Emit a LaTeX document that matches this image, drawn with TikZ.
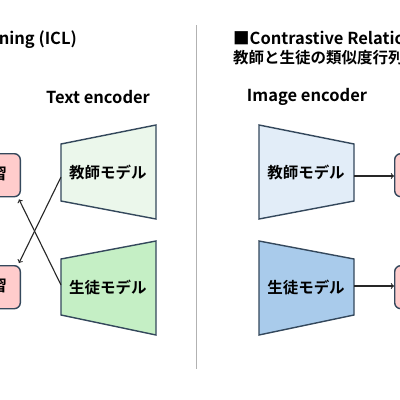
\documentclass[tikz,border=0pt]{standalone}
\usepackage{fontspec}
\setmainfont{Noto Sans CJK JP}[BoldFont={* Bold}]
\usepackage{xcolor}
\usetikzlibrary{arrows,calc,positioning}

\definecolor{edge}{HTML}{34485C}
\definecolor{pink}{HTML}{FFCCCC}
\definecolor{greenT}{HTML}{EBF7EB}
\definecolor{greenS}{HTML}{C5EFC5}
\definecolor{blueT}{HTML}{E2EDF8}
\definecolor{blueS}{HTML}{A9CBEB}

\tikzset{
  lbl/.style={font=\fontsize{15.5}{18}\selectfont\bfseries, inner sep=0pt},
  lat/.style={font=\fontsize{16.5}{19}\selectfont\bfseries, inner sep=0pt},
  outbox/.style={draw=edge, fill=pink, line width=1.4pt, rounded corners=6pt, minimum height=43pt},
  enc/.style={draw=edge, line width=1.4pt},
  link/.style={->, line width=1.1pt, draw=black!85},
}

\begin{document}
\begin{tikzpicture}[x=1pt,y=-1pt]

    \clip (0,0) rectangle (400,400);
    \fill[white] (0,0) rectangle (400,400);

    % Trennlinie
    \draw[gray!60, line width=1pt] (196,25) -- (196,369);

    % Titel
    \node[lat, anchor=base east] (titleL) at (77,44) {■In-Context Learning (ICL)};
    \node[lat, anchor=base west] (titleR) at (233,44) {■Contrastive Relation Distillation};
    \node[lbl, anchor=base west] (titleR2) at (233,63) {教師と生徒の類似度行列};

    \node[lat] (textenc) at (98,97) {Text encoder};
    \node[lat] (imgenc) at (307,97) {Image encoder};

    % Text encoder
    \draw[enc, fill=greenT] (61,144) -- (156,125) -- (156,219) -- (61,201) -- cycle;
    \draw[enc, fill=greenS] (61,259) -- (156,241) -- (156,335) -- (61,315) -- cycle;
    \node[lbl] (teachL) at (108,172) {教師モデル};
    \node[lbl] (studL) at (108,287) {生徒モデル};
    \coordinate (teachLout) at (61,177);
    \coordinate (studLout) at (61,285);

    % Image encoder
    \draw[enc, fill=blueT] (259,125) -- (354,144) -- (354,201) -- (259,219) -- cycle;
    \draw[enc, fill=blueS] (259,241) -- (354,259) -- (354,315) -- (259,335) -- cycle;
    \node[lbl] (teachR) at (306,172) {教師モデル};
    \node[lbl] (studR) at (306,287) {生徒モデル};
    \coordinate (teachRout) at (354,176);
    \coordinate (studRout) at (354,286);

    % Ausgaben
    \node[outbox, minimum width=60pt, anchor=north east] (outLT) at (21,153) {};
    \node[outbox, minimum width=60pt, anchor=north east] (outLS) at (21,265) {};
    \node[lbl, anchor=east] (wordLT) at (7,174) {学習};
    \node[lbl, anchor=east] (wordLS) at (7,286) {学習};
    \node[outbox, minimum width=60pt, anchor=north west] (outRT) at (394,153) {};
    \node[outbox, minimum width=60pt, anchor=north west] (outRS) at (394,265) {};

    % Pfeile
    \draw[link] (teachLout) -- ($(outLS.north east)+(-2,-2)$);
    \draw[link] (studLout) -- ($(outLT.south east)+(-2,2)$);
    \draw[link] (teachRout) -- (outRT.west |- teachRout);
    \draw[link] (studRout) -- (outRS.west |- studRout);
\end{tikzpicture}
\end{document}
